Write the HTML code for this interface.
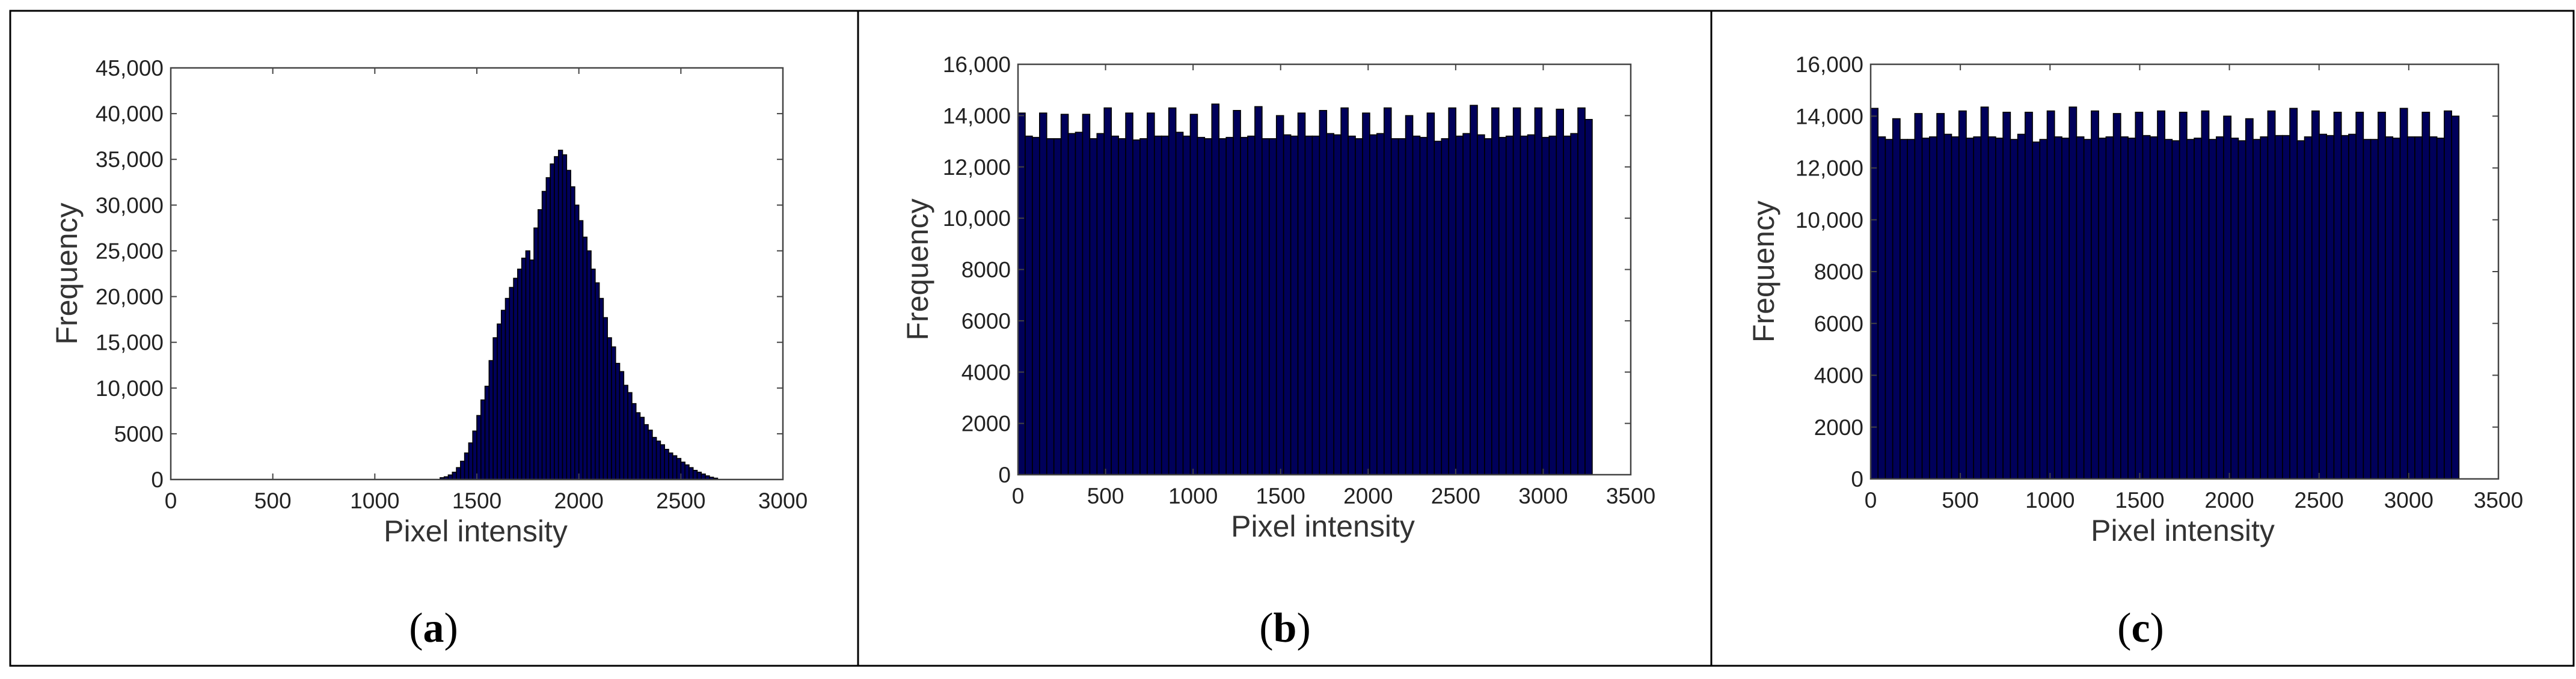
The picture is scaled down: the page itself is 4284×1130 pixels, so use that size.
<!DOCTYPE html>
<html><head><meta charset="utf-8">
<style>
html,body{margin:0;padding:0;background:#fff;}
svg{display:block;}
</style></head>
<body>
<svg id="fig" width="4284" height="1130" viewBox="0 0 4284 1130" xmlns="http://www.w3.org/2000/svg">
<rect x="17" y="18" width="4263" height="1090" fill="none" stroke="#000" stroke-width="3"/>
<line x1="1427" y1="18" x2="1427" y2="1108" stroke="#000" stroke-width="3"/>
<line x1="2846" y1="18" x2="2846" y2="1108" stroke="#000" stroke-width="3"/>
<text x="721" y="1068" font-family="Liberation Serif, serif" font-size="70" text-anchor="middle">(<tspan font-weight="bold">a</tspan>)</text>
<text x="2137" y="1068" font-family="Liberation Serif, serif" font-size="70" text-anchor="middle">(<tspan font-weight="bold">b</tspan>)</text>
<text x="3560" y="1068" font-family="Liberation Serif, serif" font-size="70" text-anchor="middle">(<tspan font-weight="bold">c</tspan>)</text>
</svg>
<script>
// Panel (a) data: 20-unit bins starting at 1320
const aBinStart = 1320;
const aBinWidth = 20;
const aValues = [200,300,500,800,1300,2000,2900,4000,5300,7000,8700,10200,13000,15500,17000,18500,19800,21000,22000,23000,24200,25000,24000,27500,29500,31500,33000,34500,35300,36000,35500,33800,32000,30000,28300,26500,25000,23000,21500,19800,17700,15500,14500,12700,11800,10300,9500,8300,7300,6800,6000,5400,4600,4200,3800,3300,2900,2600,2300,1900,1600,1300,1000,800,600,400,250,150];
const aXTicks = [0,500,1000,1500,2000,2500,3000];
const aXTickLabels = ["0","500","1000","1500","2000","2500","3000"];
const aYTicks = [0,5000,10000,15000,20000,25000,30000,35000,40000,45000];
const aYTickLabels = ["0","5000","10,000","15,000","20,000","25,000","30,000","35,000","40,000","45,000"];

// Panels (b),(c): 41-unit bins starting at 0
const bcBinStart = 0;
const bcBinWidth = 41;
const bValues = [14100,13200,13150,14100,13100,13100,14050,13300,13350,14050,13100,13300,14300,13200,13100,14100,13050,13100,14100,13200,13200,14300,13350,13200,14050,13150,13100,14450,13100,13150,14200,13150,13200,14350,13100,13100,14000,13250,13200,14100,13200,13200,14200,13300,13250,14300,13200,13100,14100,13250,13300,14300,13100,13100,14000,13200,13150,14100,13000,13100,14300,13200,13300,14400,13250,13100,14300,13150,13200,14300,13200,13250,14300,13150,13200,14250,13200,13300,14300,13850];
const cValues = [14300,13200,13100,13900,13100,13100,14100,13150,13200,14100,13300,13200,14200,13150,13200,14350,13200,13150,14150,13100,13300,14150,13000,13100,14200,13200,13150,14350,13200,13100,14200,13150,13200,14100,13200,13150,14150,13250,13200,14200,13100,13050,14150,13100,13150,14200,13100,13200,14000,13150,13050,13900,13100,13200,14200,13250,13250,14300,13050,13200,14200,13300,13250,14150,13250,13300,14150,13100,13100,14150,13200,13150,14300,13200,13200,14150,13200,13150,14200,14000];
const bcXTicks = [0,500,1000,1500,2000,2500,3000,3500];
const bcXTickLabels = ["0","500","1000","1500","2000","2500","3000","3500"];
const bcYTicks = [0,2000,4000,6000,8000,10000,12000,14000,16000];
const bcYTickLabels = ["0","2000","4000","6000","8000","10,000","12,000","14,000","16,000"];

const NS = "http://www.w3.org/2000/svg";
const fig = document.getElementById('fig');

function mk(tag, attrs, parent){
  const e = document.createElementNS(NS, tag);
  for (const k in attrs) e.setAttribute(k, attrs[k]);
  parent.appendChild(e);
  return e;
}

function panel(id, box, xmax, ymax, binStart, binWidth, values, xt, xtl, yt, ytl, ylabX, xlabX){
  const g = mk('g', {}, fig);
  
  
  const sx = v => box.x0 + (box.x1 - box.x0) * v / xmax;
  const sy = v => box.yb - (box.yb - box.yt) * v / ymax;
  const bars = mk('g', {}, g);
  
  
  values.forEach((v, i) => {
    const xa = sx(binStart + i * binWidth), xb = sx(binStart + (i + 1) * binWidth);
    const r = mk('rect', {x: xa, y: sy(v), width: xb - xa, height: sy(0) - sy(v), fill: '#00005a', stroke: '#000', 'stroke-width': 1.6}, bars);
    
    
  });
  const frame = mk('rect', {x: box.x0, y: box.yt, width: box.x1 - box.x0, height: box.yb - box.yt, fill: 'none', stroke: '#444', 'stroke-width': 2.5}, g);
  
  
  xt.forEach((t, i) => {
    const x = sx(t);
    const l1 = mk('line', {x1: x, x2: x, y1: box.yb, y2: box.yb - 10, stroke: '#444', 'stroke-width': 2}, g);
    
    
    const l2 = mk('line', {x1: x, x2: x, y1: box.yt, y2: box.yt + 10, stroke: '#444', 'stroke-width': 2}, g);
    
    
    const tx = mk('text', {x: x, y: box.yb + 48, 'font-family': 'Liberation Sans, sans-serif', 'font-size': 37, fill: '#222', 'text-anchor': 'middle'}, g);
    
    
    tx.textContent = xtl[i];
  });
  yt.forEach((t, i) => {
    const y = sy(t);
    const l1 = mk('line', {x1: box.x0, x2: box.x0 + 10, y1: y, y2: y, stroke: '#444', 'stroke-width': 2}, g);
    
    
    const l2 = mk('line', {x1: box.x1, x2: box.x1 - 10, y1: y, y2: y, stroke: '#444', 'stroke-width': 2}, g);
    
    
    const tx = mk('text', {x: box.x0 - 12, y: y + 13, 'font-family': 'Liberation Sans, sans-serif', 'font-size': 37, fill: '#222', 'text-anchor': 'end'}, g);
    
    
    tx.textContent = ytl[i];
  });
  const xl = mk('text', {x: xlabX, y: box.yb + 103, 'font-family': 'Liberation Sans, sans-serif', 'font-size': 50, fill: '#333', 'text-anchor': 'middle'}, g);
  
  
  xl.textContent = 'Pixel intensity';
  const yc = (box.yb + box.yt) / 2;
  const yl = mk('text', {x: ylabX, y: yc, 'font-family': 'Liberation Sans, sans-serif', 'font-size': 50, fill: '#333', 'text-anchor': 'middle', transform: 'rotate(-90 ' + ylabX + ' ' + yc + ')'}, g);
  
  
  yl.textContent = 'Frequency';
}

panel('a', {x0: 284, x1: 1302, yt: 113, yb: 798}, 3000, 45000, aBinStart, aBinWidth, aValues, aXTicks, aXTickLabels, aYTicks, aYTickLabels, 128, 791);
panel('b', {x0: 1693, x1: 2712, yt: 107, yb: 790}, 3500, 16000, bcBinStart, bcBinWidth, bValues, bcXTicks, bcXTickLabels, bcYTicks, bcYTickLabels, 1543, 2200);
panel('c', {x0: 3111, x1: 4155, yt: 107, yb: 797}, 3500, 16000, bcBinStart, bcBinWidth, cValues, bcXTicks, bcXTickLabels, bcYTicks, bcYTickLabels, 2950, 3630);
</script>
</body></html>
